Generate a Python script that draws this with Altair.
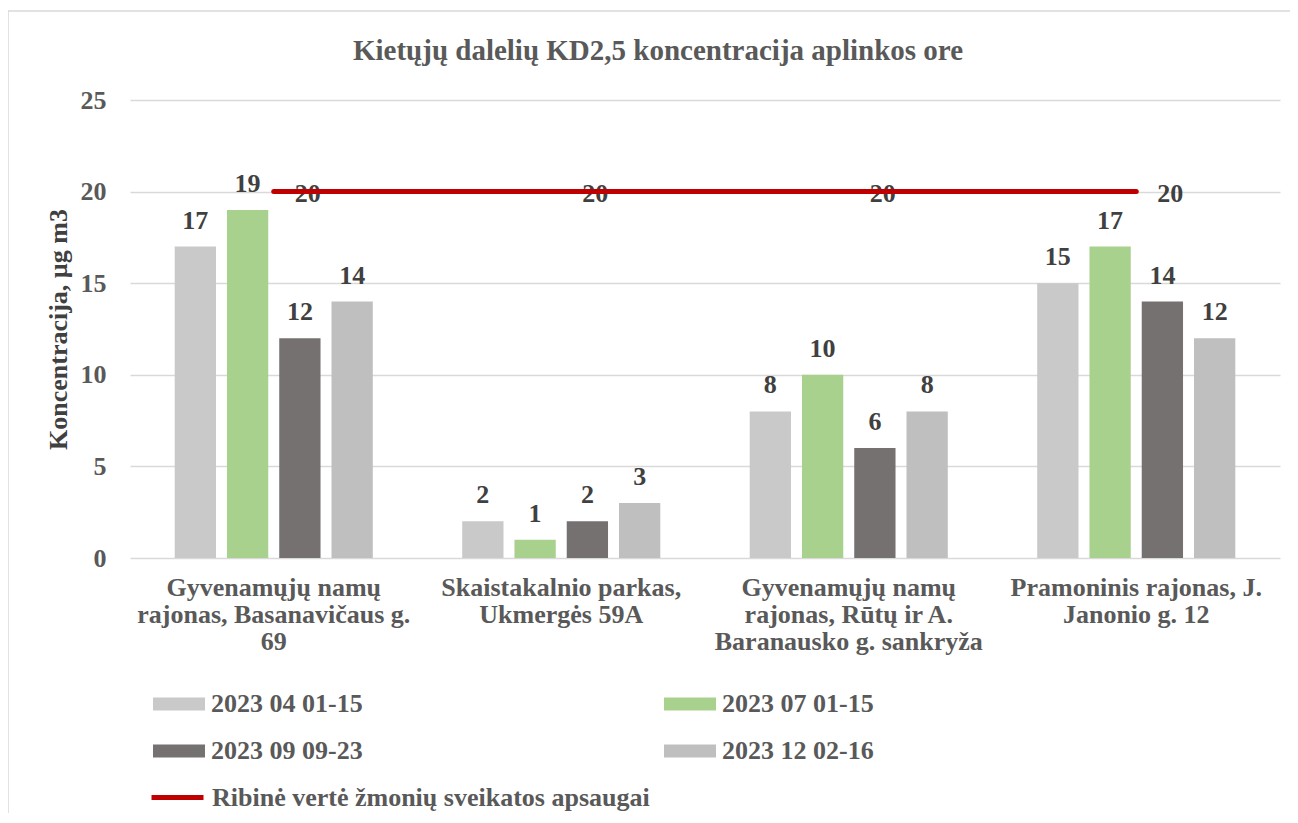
import altair as alt
import pandas as pd

FONT = "Liberation Serif"

categories = [
    "Gyvenamųjų namų\nrajonas, Basanavičaus g.\n69",
    "Skaistakalnio parkas,\nUkmergės 59A",
    "Gyvenamųjų namų\nrajonas, Rūtų ir A.\nBaranausko g. sankryža",
    "Pramoninis rajonas, J.\nJanonio g. 12",
]
series = ["2023 04 01-15", "2023 07 01-15", "2023 09 09-23", "2023 12 02-16"]
vals_apr = [17, 2, 8, 15]
vals_jul = [19, 1, 10, 17]
vals_sep = [12, 2, 6, 14]
vals_dec = [14, 3, 8, 12]
limit_name = "Ribinė vertė žmonių sveikatos apsaugai"
limit_vals = [20, 20, 20, 20]
series_colors = ["#C9C9C9", "#A9D18E", "#767171", "#BFBFBF"]
limit_color = "#C00000"
y_ticks = [0, 5, 10, 15, 20, 25]

rows = []
for s, vals in zip(series, [vals_apr, vals_jul, vals_sep, vals_dec]):
    for c, v in zip(categories, vals):
        rows.append({"category": c, "series": s, "value": v})
bar_df = pd.DataFrame(rows)
line_df = pd.DataFrame({"category": categories, "value": limit_vals, "name": limit_name})

x_enc = alt.X(
    "category:N", sort=categories, title=None,
    scale=alt.Scale(paddingInner=0.311, paddingOuter=0.1555),
    axis=alt.Axis(
        labelExpr="split(datum.label, '\\n')", labelFont=FONT, labelFontSize=26,
        labelFontWeight="bold", labelColor="#595959", labelPadding=16,
        labelLineHeight=27, domain=False, ticks=False, labelAngle=0, labelLimit=0,
    ),
)
y_enc = alt.Y(
    "value:Q", scale=alt.Scale(domain=[0, 25], nice=False),
    axis=alt.Axis(
        values=y_ticks, title="Koncentracija, µg m3", grid=True, gridColor="#D9D9D9",
        gridWidth=1.5, domain=False, ticks=False, labelPadding=24, labelFont=FONT,
        labelFontSize=26, labelFontWeight="bold", labelColor="#595959",
        titleFont=FONT, titleFontSize=26, titleFontWeight="bold", titleColor="#404040",
        titleX=-72, titleY=229, titleAngle=270, titleAlign="center", titleBaseline="middle",
    ),
)

# decorative outer chart frame (not data); right and bottom edges fall outside the page
frame = alt.Chart(pd.DataFrame({"f": [0]})).mark_rect(
    fill="transparent", stroke="#D9D9D9", strokeWidth=1.5,
).encode(
    x=alt.value(-122), x2=alt.value(1175), y=alt.value(-89), y2=alt.value(725),
)

bars = alt.Chart(bar_df).mark_bar().encode(
    x=x_enc,
    xOffset=alt.XOffset("series:N", sort=series, scale=alt.Scale(paddingInner=0.21, paddingOuter=0)),
    y=y_enc,
    color=alt.Color(
        "series:N", sort=series,
        scale=alt.Scale(domain=series, range=series_colors),
        legend=alt.Legend(
            title=None, orient="none", legendX=36, legendY=591, columns=2,
            direction="horizontal",
            columnPadding=301, rowPadding=21, symbolType="M-2,-0.5H2V0.5H-2Z",
            symbolSize=676, symbolStrokeWidth=0, labelOffset=19, labelFont=FONT,
            labelFontSize=26, labelFontWeight="bold", labelColor="#595959",
            padding=0, labelLimit=0,
        ),
    ),
)

bar_labels = alt.Chart(bar_df).mark_text(
    dy=-18, baseline="alphabetic", align="center", font=FONT, fontSize=26,
    fontWeight="bold", color="#404040",
).encode(
    x=alt.X("category:N", sort=categories),
    xOffset=alt.XOffset("series:N", sort=series),
    y=alt.Y("value:Q"),
    text=alt.Text("value:Q"),
)

line_labels = alt.Chart(line_df).mark_text(
    dx=34, dy=2, baseline="middle", align="center", font=FONT, fontSize=26,
    fontWeight="bold", color="#404040",
).encode(
    x=alt.X("category:N", sort=categories),
    y=alt.Y("value:Q"),
    text=alt.Text("value:Q"),
)

line = alt.Chart(line_df).mark_line(strokeWidth=5, strokeCap="round").encode(
    x=alt.X("category:N", sort=categories),
    y=alt.Y("value:Q"),
    stroke=alt.Stroke(
        "name:N",
        scale=alt.Scale(domain=[limit_name], range=[limit_color]),
        legend=alt.Legend(
            title=None, orient="none", legendX=32, legendY=682,
            symbolType="M-2,0H2", symbolSize=676, symbolStrokeWidth=5,
            labelOffset=19, labelFont=FONT, labelFontSize=26, labelFontWeight="bold",
            labelColor="#595959", padding=0, labelLimit=0,
        ),
    ),
)

chart = alt.layer(frame, bars, bar_labels, line_labels, line).properties(
    width=1150, height=458,
    padding={"left": 122, "top": 92, "right": 10, "bottom": 255},
    autosize=alt.AutoSizeParams(type="none"),
    background="white",
    title=alt.TitleParams(
        "Kietųjų dalelių KD2,5 koncentracija aplinkos ore", font=FONT, fontSize=29,
        fontWeight="bold", color="#595959", anchor="middle", baseline="alphabetic",
        frame="group", offset=24, dy=103, dx=-47,
    ),
).configure_view(stroke=None)

chart.save("out.html", embed_options={"renderer": "svg", "actions": False})
